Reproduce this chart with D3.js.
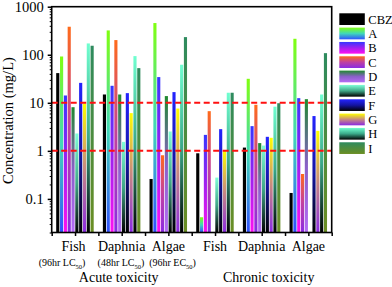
<!DOCTYPE html>
<html>
<head>
<meta charset="utf-8">
<script src="https://cdn.jsdelivr.net/npm/d3@7"></script>
<style>
  body { margin: 0; background: #fff; }
  svg { display: block; }
  text { font-family: "Liberation Serif", "Times New Roman", serif; fill: #000; }
</style>
</head>
<body>
<svg id="chart" width="392" height="287"></svg>
<script>
// groups on the x axis (acute x3, chronic x3)
const groupNames = ["Fish", "Daphnia", "Algae", "Fish", "Daphnia", "Algae"];
const groupSubs = [["(96hr LC", "50", ")"], ["(48hr LC", "50", ")"], ["(96hr EC", "50", ")"]];
const seriesNames = ["CBZ", "A", "B", "C", "D", "E", "F", "G", "H", "I"];

// concentration (mg/L) per series, one value per group (null = no bar)
const valCBZ = [41.5, 14.9, 0.26, 0.89, 1.17, 0.133];
const valA = [92, 321, 457, 0.0415, 31.6, 215];
const valB = [14.2, 22.6, 34.3, 2.15, 3.27, 12.5];
const valC = [383, 202, 0.81, 6.7, 9.1, 0.33];
const valD = [8.1, 14.9, 13.8, null, 1.45, 11.9];
const valE = [2.3, 1.54, 2.53, 0.278, 1.29, null];
const valF = [26, 15.9, 16.7, 2.83, 1.96, 5.3];
const valG = [9.7, 6.1, 7.6, 1.0, 1.87, 2.61];
const valH = [172, 93.8, 62, 16.2, 8.3, 14.9];
const valI = [154, 52.7, 233, 16.2, 9.8, 108];

const yTicks = [1000, 100, 10, 1, 0.1];
const thresholds = [10, 1];

// gradient stops (top -> bottom) per series
const gradStops = {
  CBZ: ["#000000", "#000000"],
  A: ["#80ff10", "#40d8b8", "#3050ff"],
  B: ["#3636ff", "#a020f0", "#ff10f0"],
  C: ["#ff6a1a", "#c040a0", "#8a2be2"],
  D: ["#1f8a2e", "#8a60c8", "#b46cf5"],
  E: ["#80ffd8", "#40a888", "#000000"],
  F: ["#2424ff", "#1414a0", "#000000"],
  G: ["#ffff00", "#c88a80", "#8a2be2"],
  H: ["#70ffd0", "#3aa888", "#000000"],
  I: ["#2e8b5f", "#4d8c3e", "#6b8e23"]
};

const seriesValues = { CBZ: valCBZ, A: valA, B: valB, C: valC, D: valD, E: valE, F: valF, G: valG, H: valH, I: valI };

const pL = 51.7, pR = 331.7, pT = 6.7, pB = 232.5;

const svg = d3.select('#chart');
const defs = svg.append('defs');

seriesNames.forEach(s => {
  const g = defs.append('linearGradient')
    .attr('id', 'grad-' + s)
    .attr('x1', 0).attr('y1', 0).attr('x2', 0).attr('y2', 1);
  const stops = gradStops[s];
  stops.forEach((c, i) => {
    g.append('stop').attr('offset', i / (stops.length - 1)).attr('stop-color', c);
  });
});

const x = d3.scaleBand().domain(d3.range(groupNames.length)).range([pL, pR]);
const xs = d3.scaleBand().domain(seriesNames).range([4.5, 42]).paddingInner(0.18);
const y = d3.scaleLog().domain([0.02, 1000]).range([pB, pT]);

// bars
const barData = [];
seriesNames.forEach(s => {
  seriesValues[s].forEach((v, i) => {
    if (v != null) barData.push({ s, i, v });
  });
});

svg.append('g')
  .selectAll('rect')
  .data(barData)
  .join('rect')
  .attr('x', d => x(d.i) + xs(d.s))
  .attr('width', xs.bandwidth())
  .attr('y', d => y(d.v))
  .attr('height', d => y.range()[0] - y(d.v))
  .attr('fill', d => 'url(#grad-' + d.s + ')');

// threshold lines
svg.append('g')
  .selectAll('line')
  .data(thresholds)
  .join('line')
  .attr('x1', pL).attr('x2', pR)
  .attr('y1', d => y(d)).attr('y2', d => y(d))
  .attr('stroke', '#ff1010')
  .attr('stroke-width', 2)
  .attr('stroke-dasharray', '6,3.5');

// y axis: minor ticks
const minor = [];
[0.01, 0.1, 1, 10, 100].forEach(b => {
  for (let k = 2; k <= 9; k++) {
    const v = b * k;
    if (v >= 0.02 && v < 1000) minor.push(v);
  }
});
svg.append('g')
  .attr('transform', `translate(${pL},0)`)
  .call(d3.axisLeft(y).tickValues(minor).tickSize(2).tickFormat(''))
  .call(g => g.select('.domain').remove())
  .selectAll('line').attr('stroke-width', 1);

svg.append('g')
  .attr('transform', `translate(${pL},0)`)
  .call(d3.axisLeft(y).tickValues(yTicks).tickSize(4).tickPadding(4).tickFormat(d => d))
  .call(g => g.select('.domain').remove())
  .call(g => g.selectAll('line').attr('stroke-width', 1.5))
  .selectAll('text')
  .style('font-size', '14.5px')
  .style('font-family', '"Liberation Serif", serif');

// x axis ticks at group edges and centers
const xt = d3.scaleLinear().domain([0, groupNames.length]).range([pL, pR]);
svg.append('g')
  .attr('transform', `translate(0,${pB})`)
  .call(d3.axisBottom(xt).tickValues(d3.range(0, groupNames.length + 0.01, 0.5)).tickSize(3.5).tickFormat(''))
  .call(g => g.select('.domain').remove())
  .selectAll('line').attr('stroke-width', 1.5);

// frame
svg.append('rect')
  .attr('x', pL).attr('y', pT)
  .attr('width', pR - pL).attr('height', pB - pT)
  .attr('fill', 'none')
  .attr('stroke', '#000')
  .attr('stroke-width', 1.6);

// group names
svg.append('g')
  .selectAll('text')
  .data(groupNames)
  .join('text')
  .attr('x', (d, i) => x(i) + x.bandwidth() / 2 - (i === 0 ? 1.5 : 0))
  .attr('y', 251)
  .attr('text-anchor', 'middle')
  .style('font-size', '14px')
  .text(d => d);

// acute test sub-labels
const subShift = [-13, -0.7, 4.2];
const subs = svg.append('g')
  .selectAll('text')
  .data(groupSubs)
  .join('text')
  .attr('x', (d, i) => x(i) + x.bandwidth() / 2 + subShift[i])
  .attr('y', 266)
  .attr('text-anchor', 'middle')
  .style('font-size', '10px');
subs.append('tspan').text(d => d[0]);
subs.append('tspan').attr('dy', 2.5).style('font-size', '6.5px').text(d => d[1]);
subs.append('tspan').attr('dy', -2.5).text(d => d[2]);

// toxicity labels
svg.append('text')
  .attr('x', x(1) + x.bandwidth() / 2 - 3)
  .attr('y', 282)
  .attr('text-anchor', 'middle')
  .style('font-size', '14px')
  .text('Acute toxicity');

svg.append('text')
  .attr('x', x(4) + x.bandwidth() / 2 + 7)
  .attr('y', 282)
  .attr('text-anchor', 'middle')
  .style('font-size', '14px')
  .text('Chronic toxicity');

// y axis title
svg.append('text')
  .attr('transform', `translate(13,${(pT + pB) / 2 + 1}) rotate(-90)`)
  .attr('text-anchor', 'middle')
  .style('font-size', '14.5px')
  .text('Concentration (mg/L)');

// legend
const legend = svg.append('g').attr('transform', 'translate(339.3,13.3)');
const li = legend.selectAll('g')
  .data(seriesNames)
  .join('g')
  .attr('transform', (d, i) => `translate(0,${i * 14.33})`);
li.append('rect')
  .attr('width', 25.5).attr('height', 11.7)
  .attr('fill', d => 'url(#grad-' + d + ')');
li.append('text')
  .attr('x', 29).attr('y', 10.3)
  .style('font-size', '12.5px')
  .text(d => d);
</script>
</body>
</html>
